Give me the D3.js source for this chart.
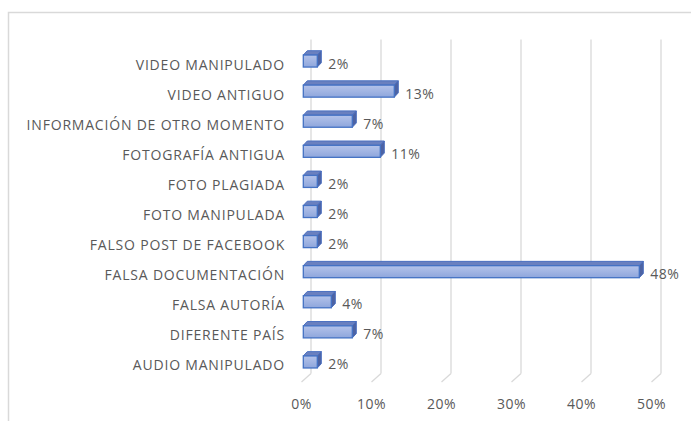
<!DOCTYPE html>
<html>
<head>
<meta charset="utf-8">
<script src="https://cdn.jsdelivr.net/npm/d3@7"></script>
<style>
  html, body { margin: 0; padding: 0; background: #fff; }
  svg { display: block; }
</style>
</head>
<body>
<div id="chart"></div>
<script>
const categories = [
  "VIDEO MANIPULADO",
  "VIDEO ANTIGUO",
  "INFORMACIÓN DE OTRO MOMENTO",
  "FOTOGRAFÍA ANTIGUA",
  "FOTO PLAGIADA",
  "FOTO MANIPULADA",
  "FALSO POST DE FACEBOOK",
  "FALSA DOCUMENTACIÓN",
  "FALSA AUTORÍA",
  "DIFERENTE PAÍS",
  "AUDIO MANIPULADO"
]
const values = [2, 13, 7, 11, 2, 2, 2, 48, 4, 7, 2]
const ticks = [0, 10, 20, 30, 40, 50]

const width = 691, height = 421
const FONT = "'Open Sans', 'Noto Sans', sans-serif"
const TEXT = "#595959"

// 3D depth of the floor/back wall, and of each bar
const depth = { dx: 9.5, dy: -8.5 }
const barDepth = { dx: 4, dy: -4.3 }

const svg = d3.select("#chart").append("svg")
  .attr("width", width)
  .attr("height", height)

// chart area border (cropped on right and bottom)
svg.append("rect")
  .attr("x", 8.5).attr("y", 12.5)
  .attr("width", width + 10).attr("height", height + 10)
  .attr("fill", "none").attr("stroke", "#d9d9d9").attr("stroke-width", 1.5)

const x = d3.scaleLinear().domain([0, 50]).range([301.5, 651.5])
const y = d3.scaleBand().domain(categories).range([46, 377]).paddingInner(0.6).paddingOuter(0.3)

const floorY = 382
const backTop = 39.5

// gridlines on the back wall + floor diagonals
const grid = svg.append("g")
ticks.forEach(t => {
  const fx = x(t)
  const bx = fx + depth.dx
  const by = floorY + depth.dy
  grid.append("line")
    .attr("x1", bx).attr("x2", bx)
    .attr("y1", backTop).attr("y2", by)
    .attr("stroke", "#d9d9d9").attr("stroke-width", 1.3)
  grid.append("line")
    .attr("x1", bx).attr("y1", by)
    .attr("x2", fx).attr("y2", floorY)
    .attr("stroke", "#d9d9d9").attr("stroke-width", 1.3)
})

// x tick labels
svg.append("g").selectAll("text")
  .data(ticks)
  .enter().append("text")
  .attr("x", d => x(d))
  .attr("y", 403)
  .attr("text-anchor", "middle")
  .attr("dominant-baseline", "central")
  .attr("font-family", FONT).attr("font-size", 14).attr("letter-spacing", 0.5)
  .attr("fill", TEXT)
  .text(d => d + "%")

// gradient for bar fronts
const defs = svg.append("defs")
const grad = defs.append("linearGradient")
  .attr("id", "barFront").attr("x1", 0).attr("x2", 0).attr("y1", 0).attr("y2", 1)
grad.append("stop").attr("offset", "0%").attr("stop-color", "#b4c3ea")
grad.append("stop").attr("offset", "100%").attr("stop-color", "#8ea6dc")

const bars = svg.append("g")
const shift = 1.8
categories.forEach((c, i) => {
  const v = values[i]
  const x0 = x(0) + shift
  const x1 = x(v) + shift
  const y0 = y(c)
  const h = y.bandwidth()
  const g = bars.append("g")
  // top face
  g.append("path")
    .attr("d", `M${x0},${y0} L${x0 + barDepth.dx},${y0 + barDepth.dy} L${x1 + barDepth.dx},${y0 + barDepth.dy} L${x1},${y0} Z`)
    .attr("fill", "#6a80bf").attr("stroke", "#4a6fc0").attr("stroke-width", 1).attr("stroke-linejoin", "round")
  // side face
  g.append("path")
    .attr("d", `M${x1},${y0} L${x1 + barDepth.dx},${y0 + barDepth.dy} L${x1 + barDepth.dx},${y0 + h + barDepth.dy} L${x1},${y0 + h} Z`)
    .attr("fill", "#4d63a3").attr("stroke", "#4a6fc0").attr("stroke-width", 1).attr("stroke-linejoin", "round")
  // front face
  g.append("rect")
    .attr("x", x0).attr("y", y0)
    .attr("width", x1 - x0).attr("height", h)
    .attr("fill", "url(#barFront)").attr("stroke", "#4472c4").attr("stroke-width", 1.3)

  // value label
  svg.append("text")
    .attr("x", x1 + barDepth.dx + 7)
    .attr("y", y0 + h / 2 + 2)
    .attr("dominant-baseline", "central")
    .attr("font-family", FONT).attr("font-size", 14).attr("letter-spacing", 0.5)
    .attr("fill", TEXT)
    .text(v + "%")
})

// category labels
svg.append("g").selectAll("text")
  .data(categories)
  .enter().append("text")
  .attr("x", 285)
  .attr("y", d => y(d) + y.bandwidth() / 2 + 3)
  .attr("text-anchor", "end")
  .attr("dominant-baseline", "central")
  .attr("font-family", FONT).attr("font-size", 14).attr("letter-spacing", 0.8)
  .attr("fill", TEXT)
  .text(d => d)
</script>
</body>
</html>
